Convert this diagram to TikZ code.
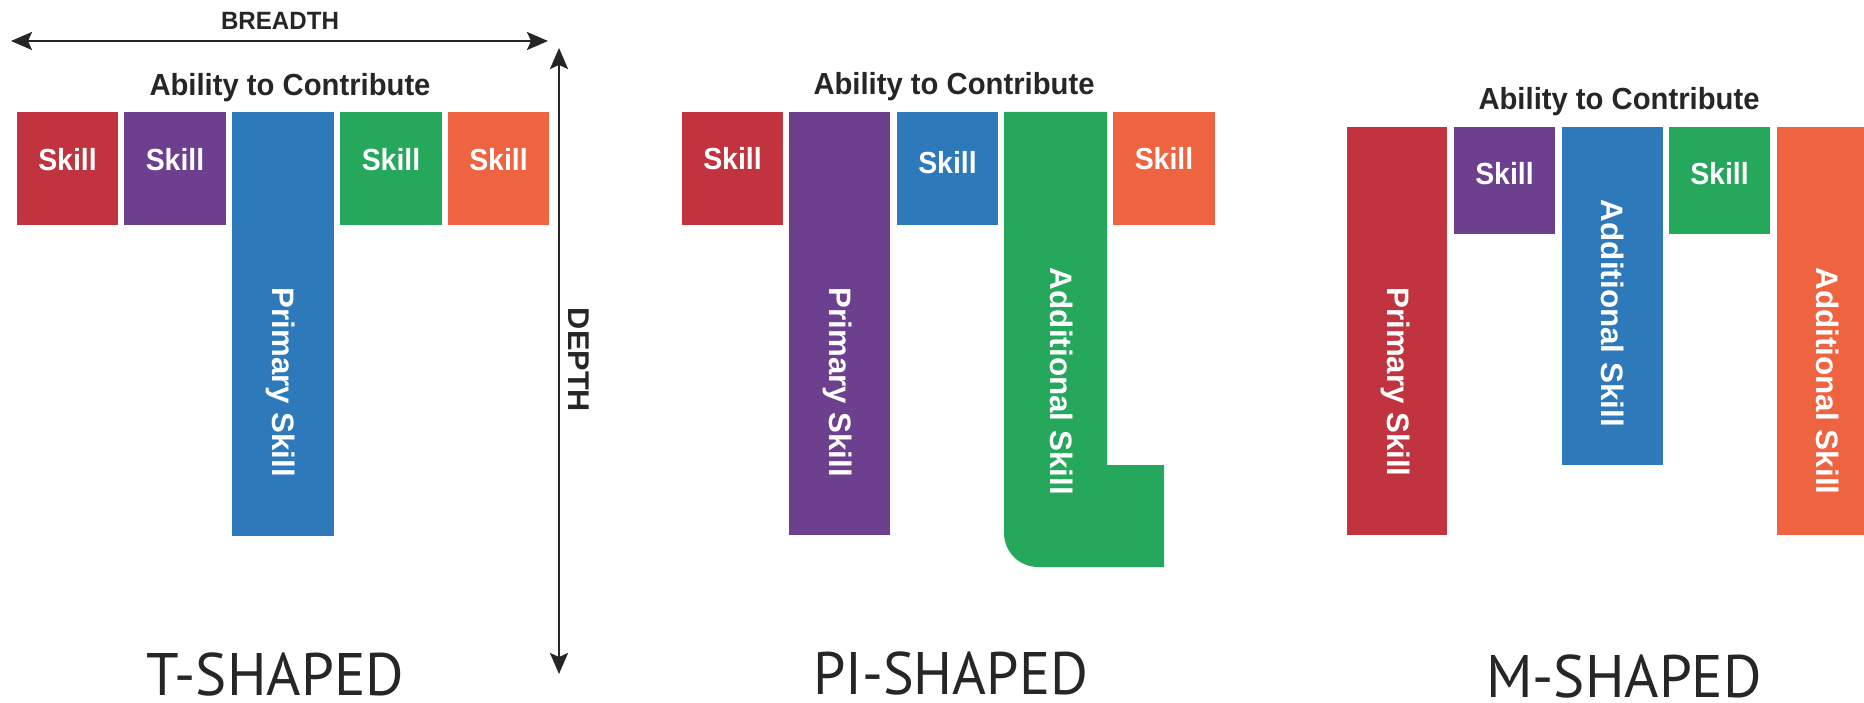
\documentclass[tikz,border=0pt]{standalone}
\usepackage{fontspec}
\usepackage{graphicx}
\usetikzlibrary{arrows.meta}

\newfontfamily\labelfont{Liberation Sans}
\newfontfamily\captionfont{PT Sans}
\newcommand\fitwidth[2]{\resizebox{#1}{\height}{#2}}

\definecolor{skred}{RGB}{193,52,63}
\definecolor{skpurple}{RGB}{108,63,143}
\definecolor{skblue}{RGB}{45,121,186}
\definecolor{skgreen}{RGB}{38,168,92}
\definecolor{skorange}{RGB}{238,99,64}
\definecolor{ink}{RGB}{38,38,38}

\tikzset{
  boldtext/.style={inner sep=0pt, anchor=base, font=\labelfont\bfseries\fontsize{30.5}{36}\selectfont},
  skilllab/.style={boldtext, text=white},
  vlab/.style={boldtext, text=white, rotate=-90, font=\labelfont\bfseries\fontsize{31}{36}\selectfont},
  headline/.style={boldtext, text=ink},
  shapetitle/.style={inner sep=0pt, anchor=base, text=ink, font=\captionfont\fontsize{60}{66}\selectfont},
  axisarrow/.style={draw=ink, line width=2pt,
    {Stealth[length=21pt, width=18pt, inset=4pt]}-{Stealth[length=21pt, width=18pt, inset=4pt]}},
}

\begin{document}
\begin{tikzpicture}[x=1pt, y=-1pt]
\useasboundingbox (0,0) rectangle (1864,703);

% ---------- T-shaped ----------
\fill[skred]    (17,112)  rectangle (118,225);
\fill[skpurple] (124,112) rectangle (226,225);
\fill[skblue]   (232,112) rectangle (334,536);
\fill[skgreen]  (340,112) rectangle (442,225);
\fill[skorange] (448,112) rectangle (549,225);

\node[headline] (tHead) at (290,96) {\fitwidth{281pt}{Ability to Contribute}};
\node[skilllab] (tS1) at (67.5,171) {\fitwidth{58.5pt}{Skill}};
\node[skilllab] (tS2) at (175,171)  {\fitwidth{58.5pt}{Skill}};
\node[skilllab] (tS4) at (391,171)  {\fitwidth{58.5pt}{Skill}};
\node[skilllab] (tS5) at (498.5,171){\fitwidth{58.5pt}{Skill}};
\node[vlab] (tPrim) at (272,382.5) {\fitwidth{189pt}{Primary Skill}};
\node[shapetitle] (tTitle) at (275.5,695) {\fitwidth{257pt}{T-SHAPED}};

% breadth and depth axes
\coordinate (bL) at (11,41);
\coordinate (bR) at (548,41);
\coordinate (dT) at (559,48);
\coordinate (dB) at (559,674);
\draw[axisarrow] (bL) -- (bR);
\draw[axisarrow] (dT) -- (dB);
\node[headline, font=\labelfont\bfseries\fontsize{25}{30}\selectfont] (breadth) at (280,30) {\fitwidth{118pt}{BREADTH}};
\node[headline, rotate=-90, font=\labelfont\bfseries\fontsize{30}{36}\selectfont] (depth) at (568,360) {\fitwidth{104pt}{DEPTH}};

% ---------- Pi-shaped ----------
\fill[skred]    (682,112) rectangle (783,225);
\fill[skpurple] (789,112) rectangle (890,535);
\fill[skblue]   (897,112) rectangle (998,225);
\fill[skgreen]  (1004,112) -- (1107,112) -- (1107,465) -- (1164,465) -- (1164,567)
                -- (1038,567) arc[start angle=-90, end angle=-180, radius=34pt] -- cycle;
\fill[skorange] (1113,112) rectangle (1215,225);

\node[headline] (pHead) at (954,95) {\fitwidth{281pt}{Ability to Contribute}};
\node[skilllab] (pS1) at (732.5,170) {\fitwidth{58.5pt}{Skill}};
\node[skilllab] (pS3) at (947.5,174) {\fitwidth{58.5pt}{Skill}};
\node[skilllab] (pS5) at (1164,170)  {\fitwidth{58.5pt}{Skill}};
\node[vlab] (pPrim) at (829,382.5) {\fitwidth{189pt}{Primary Skill}};
\node[vlab] (pAdd)  at (1050,381.5) {\fitwidth{227pt}{Additional Skill}};
\node[shapetitle] (pTitle) at (950.5,694) {\fitwidth{275pt}{PI-SHAPED}};

% ---------- M-shaped ----------
\fill[skred]    (1347,127) rectangle (1447,535);
\fill[skpurple] (1454,127) rectangle (1555,234);
\fill[skblue]   (1562,127) rectangle (1663,465);
\fill[skgreen]  (1669,127) rectangle (1770,234);
\fill[skorange] (1777,127) rectangle (1864,535);

\node[headline] (mHead) at (1619,110) {\fitwidth{281pt}{Ability to Contribute}};
\node[skilllab] (mS2) at (1504.5,185) {\fitwidth{58.5pt}{Skill}};
\node[skilllab] (mS4) at (1719.5,185) {\fitwidth{58.5pt}{Skill}};
\node[vlab] (mPrim) at (1387,382) {\fitwidth{189pt}{Primary Skill}};
\node[vlab] (mAdd1) at (1601,313.5) {\fitwidth{227pt}{Additional Skill}};
\node[vlab] (mAdd2) at (1816,381) {\fitwidth{227pt}{Additional Skill}};
\node[shapetitle] (mTitle) at (1624,697) {\fitwidth{276pt}{M-SHAPED}};
\end{tikzpicture}
\end{document}
